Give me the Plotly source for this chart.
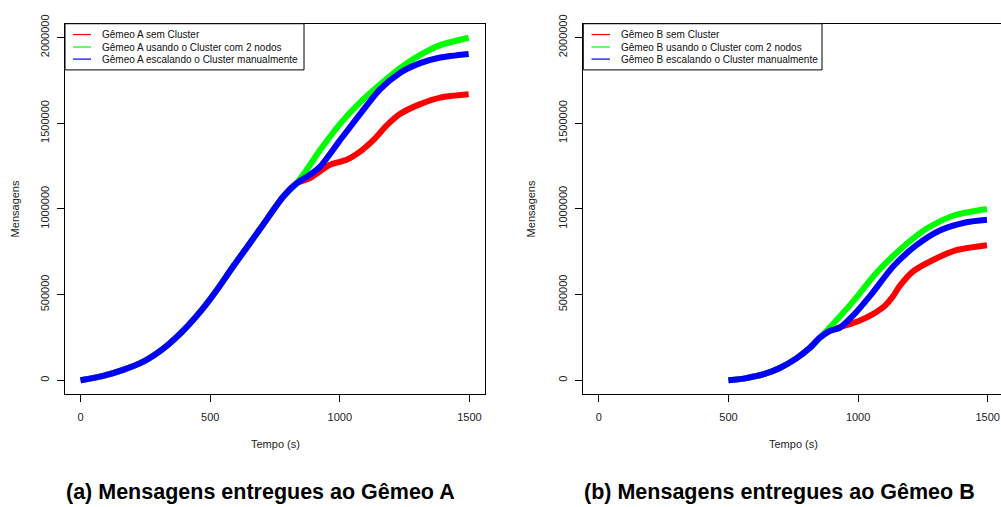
import plotly.graph_objects as go

# ---------------- data ----------------
# Panel A: Gêmeo A
a_red_t = [0, 87, 164, 242, 319, 396, 473, 525, 589, 692, 782, 834, 885, 962, 1026, 1078, 1129, 1181, 1232, 1310, 1387, 1497]
a_red_v = [0, 26000, 61000, 109000, 185000, 290000, 421000, 525000, 665000, 882000, 1072000, 1150000, 1180000, 1257000, 1286000, 1334000, 1401000, 1487000, 1553000, 1611000, 1649000, 1668000]

a_green_t = [0, 87, 164, 242, 319, 396, 473, 525, 589, 692, 782, 834, 872, 924, 1001, 1078, 1155, 1232, 1310, 1387, 1497]
a_green_v = [0, 26000, 61000, 109000, 185000, 290000, 421000, 525000, 665000, 882000, 1072000, 1150000, 1228000, 1343000, 1496000, 1621000, 1725000, 1821000, 1898000, 1955000, 1998000]

a_blue_t = [0, 87, 164, 242, 319, 396, 473, 525, 589, 692, 782, 834, 885, 924, 1001, 1078, 1155, 1232, 1310, 1387, 1497]
a_blue_v = [0, 26000, 61000, 109000, 185000, 290000, 421000, 525000, 665000, 882000, 1072000, 1150000, 1200000, 1247000, 1401000, 1553000, 1697000, 1793000, 1850000, 1883000, 1904000]

# Panel B: Gêmeo B
b_red_t = [500, 569, 633, 698, 762, 813, 852, 890, 929, 968, 1005, 1057, 1100, 1135, 1160, 1212, 1289, 1379, 1497]
b_red_v = [0, 13000, 34000, 72000, 128000, 188000, 248000, 288000, 310000, 328000, 347000, 386000, 430000, 491000, 549000, 635000, 702000, 759000, 788000]

b_green_t = [500, 569, 633, 698, 762, 813, 852, 903, 985, 1070, 1160, 1263, 1366, 1497]
b_green_v = [0, 13000, 34000, 72000, 128000, 188000, 248000, 329000, 468000, 626000, 760000, 884000, 960000, 999000]

b_blue_t = [500, 569, 633, 698, 762, 813, 852, 890, 929, 980, 1050, 1135, 1225, 1315, 1418, 1497]
b_blue_v = [0, 13000, 34000, 72000, 128000, 188000, 248000, 288000, 306000, 377000, 500000, 664000, 788000, 874000, 922000, 937000]

series_colors = ["#FF0000", "#00FF00", "#0000FF"]
legend_a = ["Gêmeo A sem Cluster", "Gêmeo A usando o Cluster com 2 nodos", "Gêmeo A escalando o Cluster manualmente"]
legend_b = ["Gêmeo B sem Cluster", "Gêmeo B usando o Cluster com 2 nodos", "Gêmeo B escalando o Cluster manualmente"]
x_ticks = [0, 500, 1000, 1500]
y_ticks = [0, 500000, 1000000, 1500000, 2000000]
caption_a = "<b>(a) Mensagens entregues ao Gêmeo A</b>"
caption_b = "<b>(b) Mensagens entregues ao Gêmeo B</b>"
x_title = "Tempo (s)"
y_title = "Mensagens"

# ---------------- figure ----------------
W, H = 1001, 507
FONT = "Liberation Sans, Arial, Helvetica, sans-serif"


def px(x):
    return x / W


def py(y):
    return 1 - y / H


fig = go.Figure()

panel_a = [(a_red_t, a_red_v), (a_green_t, a_green_v), (a_blue_t, a_blue_v)]
panel_b = [(b_red_t, b_red_v), (b_green_t, b_green_v), (b_blue_t, b_blue_v)]

for (t, v), c, name in zip(panel_a, series_colors, legend_a):
    fig.add_trace(go.Scatter(x=t, y=v, mode="lines", name=name, showlegend=False,
                             line=dict(color=c, width=6, shape="spline", smoothing=0.7),
                             xaxis="x", yaxis="y"))
for (t, v), c, name in zip(panel_b, series_colors, legend_b):
    fig.add_trace(go.Scatter(x=t, y=v, mode="lines", name=name, showlegend=False,
                             line=dict(color=c, width=6, shape="spline", smoothing=0.7),
                             xaxis="x2", yaxis="y2"))

xr = [-60, 1560]
yr = [-80000, 2080000]
ydom = [py(392), py(15)]
left_dom = [px(65), px(485)]
right_left = 583.3
scale = (485 - 65) / (xr[1] - xr[0])
xr2 = [-60, -60 + (W - right_left) / scale]

axis_common = dict(showgrid=False, zeroline=False, showline=True, linecolor="black", linewidth=1,
                   ticks="outside", ticklen=7, tickwidth=1, tickcolor="black",
                   tickfont=dict(family=FONT, size=11, color="#222"))

fig.update_layout(
    width=W, height=H, margin=dict(l=0, r=0, t=0, b=0),
    paper_bgcolor="white", plot_bgcolor="white",
    xaxis=dict(domain=left_dom, range=xr, tickvals=x_ticks, mirror=True, anchor="y",
               ticklabelstandoff=6, **axis_common),
    yaxis=dict(domain=ydom, range=yr, tickvals=y_ticks, mirror=True, anchor="x",
               tickangle=-90, ticklabelstandoff=4, tickformat="d", **axis_common),
    xaxis2=dict(domain=[px(right_left), 1.0], range=xr2, tickvals=x_ticks, mirror=True, anchor="y2",
                ticklabelstandoff=6, **axis_common),
    yaxis2=dict(domain=ydom, range=yr, tickvals=y_ticks, mirror=False, anchor="x2",
                tickangle=-90, ticklabelstandoff=4, tickformat="d", **axis_common),
)

shapes = []
annotations = []


def add_legend(x0, x1, y0, y1, lx0, lx1, tx, rows, labels):
    shapes.append(dict(type="rect", xref="paper", yref="paper", x0=px(x0), x1=px(x1), y0=py(y1), y1=py(y0),
                       line=dict(color="black", width=1), fillcolor="white", layer="above"))
    for ry, c, lab in zip(rows, series_colors, labels):
        shapes.append(dict(type="line", xref="paper", yref="paper", x0=px(lx0), x1=px(lx1), y0=py(ry), y1=py(ry),
                           line=dict(color=c, width=1.2), layer="above"))
        annotations.append(dict(text=lab, xref="paper", yref="paper", x=px(tx), y=py(ry), xanchor="left",
                                yanchor="middle", showarrow=False, font=dict(family=FONT, size=10, color="#111")))


add_legend(65, 304, 15, 62, 73, 91, 100, [26, 38.7, 51], legend_a)
add_legend(583.3, 822, 15, 62, 591.5, 610, 618.5, [26, 38.7, 51], legend_b)

for cx, cap, ylab_x, xt_x in [(260.5, caption_a, 15, 275), (779, caption_b, 531, 793)]:
    annotations.append(dict(text=cap, xref="paper", yref="paper", x=px(cx), y=py(492), xanchor="center",
                            yanchor="middle", showarrow=False, font=dict(family=FONT, size=21.5, color="black")))
    annotations.append(dict(text=y_title, xref="paper", yref="paper", x=px(ylab_x), y=py(204), xanchor="center",
                            yanchor="middle", showarrow=False, textangle=-90,
                            font=dict(family=FONT, size=11, color="#222")))
    annotations.append(dict(text=x_title, xref="paper", yref="paper", x=px(xt_x), y=py(443), xanchor="center",
                            yanchor="middle", showarrow=False, font=dict(family=FONT, size=11, color="#222")))

fig.update_layout(shapes=shapes, annotations=annotations)
fig.write_html("out.html")
